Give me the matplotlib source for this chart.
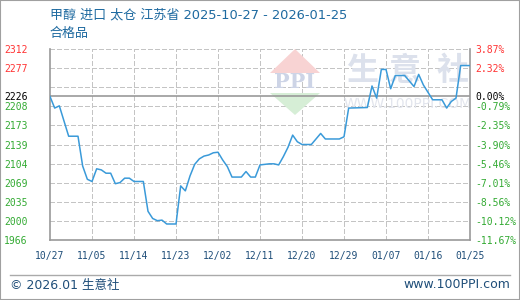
import matplotlib
matplotlib.use("Agg")
import matplotlib.pyplot as plt
import numpy as np
import pandas as pd
from matplotlib.patches import Polygon, Rectangle
from matplotlib.lines import Line2D

# ---------------- data ----------------
dates = ["2025-10-27", "2025-10-28", "2025-10-29", "2025-10-31", "2025-11-02", "2025-11-03",
         "2025-11-04", "2025-11-05", "2025-11-06", "2025-11-07", "2025-11-08", "2025-11-09",
         "2025-11-10", "2025-11-11", "2025-11-12", "2025-11-13", "2025-11-14", "2025-11-16",
         "2025-11-17", "2025-11-18", "2025-11-19", "2025-11-20", "2025-11-21", "2025-11-23",
         "2025-11-24", "2025-11-25", "2025-11-26", "2025-11-27", "2025-11-28", "2025-11-29",
         "2025-11-30", "2025-12-01", "2025-12-02", "2025-12-03", "2025-12-04", "2025-12-05",
         "2025-12-07", "2025-12-08", "2025-12-09", "2025-12-10", "2025-12-11", "2025-12-13",
         "2025-12-14", "2025-12-15", "2025-12-16", "2025-12-17", "2025-12-18", "2025-12-19",
         "2025-12-20", "2025-12-22", "2025-12-24", "2025-12-25", "2025-12-28", "2025-12-29",
         "2025-12-30", "2026-01-03", "2026-01-04", "2026-01-05", "2026-01-06", "2026-01-07",
         "2026-01-08", "2026-01-09", "2026-01-11", "2026-01-13", "2026-01-14", "2026-01-15",
         "2026-01-17", "2026-01-19", "2026-01-20", "2026-01-21", "2026-01-22", "2026-01-23",
         "2026-01-25"]
prices = [2226, 2205, 2209, 2154, 2154, 2100,
          2076, 2072, 2095, 2093, 2087, 2087,
          2068, 2070, 2078, 2078, 2072, 2072,
          2018, 2005, 2001, 2002, 1995, 1995,
          2064, 2055, 2082, 2103, 2113, 2118,
          2120, 2124, 2125, 2111, 2099, 2080,
          2080, 2090, 2080, 2080, 2102, 2104,
          2104, 2102, 2117, 2134, 2156, 2144,
          2139, 2139, 2159, 2149, 2149, 2153,
          2205, 2206, 2245, 2223, 2275, 2275,
          2240, 2264, 2264, 2244, 2266, 2247,
          2220, 2220, 2205, 2217, 2223, 2282,
          2282]

base_price = 2226
y_min, y_max = 1966, 2312
y_ticks = [2312, 2277.4, 2226, 2208.2, 2173.6, 2139, 2104.4, 2069.8, 2035.2, 2000.6, 1966]
y_labels = ["2312", "2277", "2226", "2208", "2173", "2139", "2104", "2069", "2035", "2000", "1966"]
pct_labels = ["3.87%", "2.32%", "0.00%", "-0.79%", "-2.35%", "-3.90%", "-5.46%", "-7.01%",
              "-8.56%", "-10.12%", "-11.67%"]
x_labels = ["10/27", "11/05", "11/14", "11/23", "12/02", "12/11", "12/20", "12/29", "01/07",
            "01/16", "01/25"]

title = "甲醇 进口 太仓 江苏省 2025-10-27 - 2026-01-25"
subtitle = "合格品"
footer_left = "© 2026.01 生意社"
footer_right = "www.100PPI.com"

# ---------------- style ----------------
W, H = 520, 300
RED, GREEN, BLACK = "#ff3333", "#33aa33", "#000000"
BLUE_TXT = "#1e6aa0"
DARK_TXT = "#1f4e79"
GRID = "#c4c4c4"
FRAME = "#999999"
CJK = ["DejaVu Sans", "Noto Sans CJK SC"]
MONO = "DejaVu Sans Mono"


def fx(px):
    return px / W


def fy(py):
    return 1 - py / H


fig = plt.figure(figsize=(W / 100, H / 100), dpi=100)
fig.patch.set_facecolor("white")

ax = fig.add_axes([fx(50), fy(240), fx(470) - fx(50), fy(49) - fy(240)])
x = pd.to_datetime(dates)
start, end = x[0], x[-1]
ax.set_xlim(start, end)
ax.set_ylim(y_min, y_max)

# grid (drawn as solid-colour dashed lines in axes-fraction coordinates)
grid_levels = np.linspace(0, 1, 11)[1:]
for g in grid_levels:
    ax.add_line(Line2D([0, 1], [g, g], transform=ax.transAxes, color=GRID, lw=0.75,
                       linestyle=(0, (4, 2.5)), antialiased=False, zorder=1.2))
for g in np.linspace(0, 1, len(x_labels))[1:-1]:
    ax.add_line(Line2D([g, g], [0, 1], transform=ax.transAxes, color=GRID, lw=0.75,
                       linestyle=(0, (4, 2.5)), antialiased=False, zorder=1.2))

ax.axhline(base_price, color=FRAME, lw=1.2, zorder=2)

# watermark
tf = fig.transFigure
ax.add_patch(Polygon([(fx(270), fy(73)), (fx(320), fy(73)), (fx(295), fy(49))],
                     closed=True, transform=tf, facecolor="#f8d3d3", edgecolor="none", zorder=1.6))
ax.add_patch(Polygon([(fx(270), fy(93)), (fx(320), fy(93)), (fx(295), fy(115))],
                     closed=True, transform=tf, facecolor="#d6eed6", edgecolor="none", zorder=1.6))
ax.text(fx(295), fy(82), "PPI", transform=tf, ha="center", va="center", fontsize=15,
        family="DejaVu Serif", fontweight="bold", color="#cdd4e6", zorder=1.7)
for cx, ch in zip([362, 405, 453], "生意社"):
    ax.text(fx(cx), fy(71), ch, transform=tf, ha="center", va="center", fontsize=23,
            family="Noto Sans CJK SC", fontweight="bold", color="#dce1ec", zorder=1.7)
ax.text(fx(408), fy(104), "WWW.100PPI.COM", transform=tf, ha="center", va="center",
        fontsize=10, family="DejaVu Sans", color="#e2e5ed", zorder=1.7)

# price line
ax.plot(x, prices, color="#3a9ad9", lw=1.1, zorder=3)

# spines
for side in ["left", "bottom", "right"]:
    ax.spines[side].set_color(FRAME)
    ax.spines[side].set_linewidth(1.2)
ax.spines["top"].set_visible(False)

# ticks
x_tick_pos = pd.date_range(start, end, periods=len(x_labels))
ax.set_xticks(x_tick_pos)
ax.set_xticklabels(x_labels, family=MONO, fontsize=7, color=DARK_TXT)
ax.set_yticks(y_ticks)
ax.set_yticklabels(y_labels, family=MONO, fontsize=7)
ax.tick_params(axis="both", length=0)
ax.tick_params(axis="y", pad=16)
ax.tick_params(axis="x", pad=8)


def col(v):
    if abs(v - base_price) < 1e-6:
        return BLACK
    return RED if v > base_price else GREEN


for lab, v in zip(ax.get_yticklabels(), y_ticks):
    lab.set_color(col(v))

ax2 = ax.twinx()
ax2.set_ylim(y_min, y_max)
ax2.set_yticks(y_ticks)
ax2.set_yticklabels(pct_labels, family=MONO, fontsize=7)
ax2.tick_params(axis="y", length=0, pad=3.6)
for s in ax2.spines.values():
    s.set_visible(False)
for lab, v in zip(ax2.get_yticklabels(), y_ticks):
    lab.set_color(col(v))

# titles
fig.text(fx(50), fy(15), title, family=CJK, fontsize=9.4, color=BLUE_TXT, ha="left", va="center")
fig.text(fx(50), fy(33), subtitle, family=CJK, fontsize=9.4, color=BLUE_TXT, ha="left", va="center")

# footer
fig.add_artist(Line2D([fx(10), fx(510)], [fy(275), fy(275)], transform=tf, color="#aaaaaa", lw=1))
fig.text(fx(10), fy(285), footer_left, family=CJK, fontsize=9, color=DARK_TXT, ha="left", va="center")
fig.text(fx(510), fy(285), footer_right, family="DejaVu Sans", fontsize=9, color=DARK_TXT,
         ha="right", va="center")

fig.add_artist(Rectangle((0, 0), 1, 1, transform=tf, fill=False, edgecolor="#a0a0a0", lw=1.5))

fig.savefig("out.png", dpi=100)
